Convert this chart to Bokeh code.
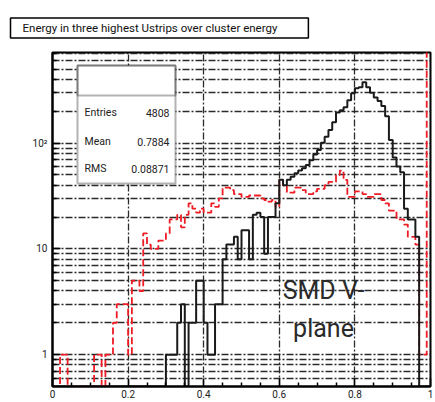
import numpy as np
from bokeh.plotting import figure
from bokeh.models import FixedTicker, LinearAxis, LogAxis, Label, BoxAnnotation, Range1d, Title
from bokeh.embed import file_html
from bokeh.resources import INLINE

# ---------------- data ----------------
bin_edges = np.linspace(0.0, 1.0, 101)

black_counts = [
    0, 0, 0, 0, 0, 0, 0, 0, 0, 0,
    0, 0, 0, 0, 0, 0, 0, 0, 0, 0,
    0, 0, 0, 0, 0, 0, 0, 0, 0, 0,
    1, 1, 1, 2, 3, 0, 2, 2, 5, 5,
    2, 1, 1, 3, 3, 8, 11, 11, 13, 8,
    15, 15, 8, 21, 22, 20, 9, 20, 20, 27,
    45, 40, 45, 48, 52, 55, 58, 62, 69, 78,
    86, 101, 115, 133, 158, 195, 205, 218, 254, 297,
    330, 337, 376, 337, 300, 270, 250, 225, 180, 107,
    73, 60, 53, 24, 19, 19, 13, 0, 0, 0,
]

red_counts = [
    0, 0, 1, 1, 0, 0, 0, 0, 0, 0,
    0, 1, 1, 0, 1, 1, 2, 3, 3, 3,
    1, 5, 5, 4, 14, 11, 10, 10, 12, 12,
    14, 19, 19, 21, 16, 21, 27, 24, 22, 24,
    22, 22, 27, 25, 30, 38, 38, 36, 33, 33,
    31, 31, 32, 32, 32, 30, 29, 28, 29, 25,
    45, 40, 34, 34, 38, 38, 36, 33, 33, 35,
    37, 37, 40, 43, 43, 50, 55, 45, 31, 31,
    35, 35, 33, 31, 31, 33, 33, 29, 27, 23,
    23, 19, 19, 17, 13, 13, 11, 1, 1, 3000,
]

x_ticks = [0.0, 0.2, 0.4, 0.6, 0.8, 1.0]
x_tick_labels = ["0", "0.2", "0.4", "0.6", "0.8", "1"]
x_minor_ticks = [0.05, 0.1, 0.15, 0.25, 0.3, 0.35, 0.45, 0.5, 0.55,
                 0.65, 0.7, 0.75, 0.85, 0.9, 0.95]
y_ticks = [1, 10, 100]
y_tick_labels = ["1", "10", "10\u00b2"]
y_minor_ticks = [0.6, 0.7, 0.8, 0.9, 2, 3, 4, 5, 6, 7, 8, 9,
                 20, 30, 40, 50, 60, 70, 80, 90, 200, 300, 400, 500, 600, 700]

stats_names = ["Entries", "Mean", "RMS"]
stats_values = ["4808", "0.7884", "0.08871"]
title_text = "Energy in three highest Ustrips over cluster energy"
note_lines = ["SMD V-", "plane"]

y_min, y_max = 0.5, 720

FONT = "Roboto"

# ---------------- figure ----------------
W, H = 435, 402
ML, MR, MT, MB = 52, 5, 52, 16
FW, FH = W - ML - MR, H - MT - MB

ttl = Title(text=title_text, align="left", offset=-42, standoff=29,
            text_font=FONT, text_font_size="11.5px", text_font_style="normal",
            text_color="#111111", background_fill_color="white",
            border_line_color="black", border_line_width=1.5,
            padding=dict(left=12, right=31, top=3, bottom=3))

p = figure(width=W, height=H, output_backend="svg", toolbar_location=None,
           y_axis_type="log", x_range=Range1d(0, 1), y_range=Range1d(y_min, y_max),
           min_border_left=ML, min_border_right=MR, min_border_top=MT,
           min_border_bottom=MB, x_axis_location=None, y_axis_location=None,
           title=ttl)
p.background_fill_color = "white"
p.border_fill_color = "white"
p.outline_line_color = "black"
p.outline_line_width = 2

# axes (ROOT style: ticks inside)
def style_axis(ax):
    ax.axis_line_color = "black"
    ax.axis_line_width = 2
    ax.major_tick_in = 8
    ax.major_tick_out = 0
    ax.minor_tick_in = 4
    ax.minor_tick_out = 0
    ax.major_tick_line_color = "black"
    ax.minor_tick_line_color = "black"
    ax.major_tick_line_width = 1.5
    ax.minor_tick_line_width = 1.5
    ax.major_label_text_font = FONT
    ax.major_label_text_font_size = "10px"
    ax.major_label_text_color = "#222222"

xb = LinearAxis(ticker=FixedTicker(ticks=x_ticks, minor_ticks=x_minor_ticks),
                major_label_overrides=dict(zip(x_ticks, x_tick_labels)))
style_axis(xb)
xb.major_label_standoff = 3
p.add_layout(xb, "below")

yl = LogAxis(ticker=FixedTicker(ticks=y_ticks, minor_ticks=y_minor_ticks),
             major_label_overrides=dict(zip(y_ticks, y_tick_labels)))
style_axis(yl)
yl.major_label_standoff = 5
p.add_layout(yl, "left")

# grids (dash-dot, at every log tick)
p.xgrid.ticker = FixedTicker(ticks=x_ticks)
p.ygrid.ticker = FixedTicker(ticks=sorted(y_ticks + y_minor_ticks))
for g in (p.xgrid, p.ygrid):
    g.grid_line_color = "#2a2a2a"
    g.grid_line_width = 1.3
    g.grid_line_dash = "7 2 2 2"

# histograms as steps
def step_y(counts):
    c = np.maximum(np.asarray(counts, dtype=float), y_min * 0.999)
    return np.append(c, c[-1])

p.step(x=bin_edges, y=step_y(red_counts), mode="after",
       line_color="#ee1c24", line_width=1.8, line_dash="7 3")
p.step(x=bin_edges, y=step_y(black_counts), mode="after",
       line_color="#1a1a1a", line_width=2)

# stats box (screen units are relative to the frame, y upward)
bx_l, bx_r, bx_t, bx_b, bx_div = 25, 123, FH - 13, FH - 131, FH - 43
p.add_layout(BoxAnnotation(left=bx_l, right=bx_r, top=bx_t, bottom=bx_b,
                           left_units="screen", right_units="screen",
                           top_units="screen", bottom_units="screen",
                           fill_color="white", fill_alpha=1.0,
                           line_color="black", line_width=2))
p.add_layout(BoxAnnotation(left=bx_l, right=bx_r, top=bx_t, bottom=bx_div,
                           left_units="screen", right_units="screen",
                           top_units="screen", bottom_units="screen",
                           fill_alpha=0.0, line_color="black", line_width=2))
row_y = [FH - 60, FH - 89, FH - 116]
for name, val, yy in zip(stats_names, stats_values, row_y):
    p.add_layout(Label(x=bx_l + 7, y=yy, x_units="screen", y_units="screen",
                       text=name, text_font=FONT, text_font_size="10.5px",
                       text_baseline="middle", text_align="left", text_color="#222222"))
    p.add_layout(Label(x=bx_r - 6, y=yy, x_units="screen", y_units="screen",
                       text=val, text_font=FONT, text_font_size="10.5px",
                       text_baseline="middle", text_align="right", text_color="#222222"))

# annotation text
for t, yy in zip(note_lines, [96, 58]):
    p.add_layout(Label(x=271, y=yy, x_units="screen", y_units="screen",
                       text=t, text_font=FONT, text_font_size="25px",
                       text_baseline="middle", text_align="center", text_color="#2a2a2a"))

open("out.html", "w").write(file_html(p, INLINE))
